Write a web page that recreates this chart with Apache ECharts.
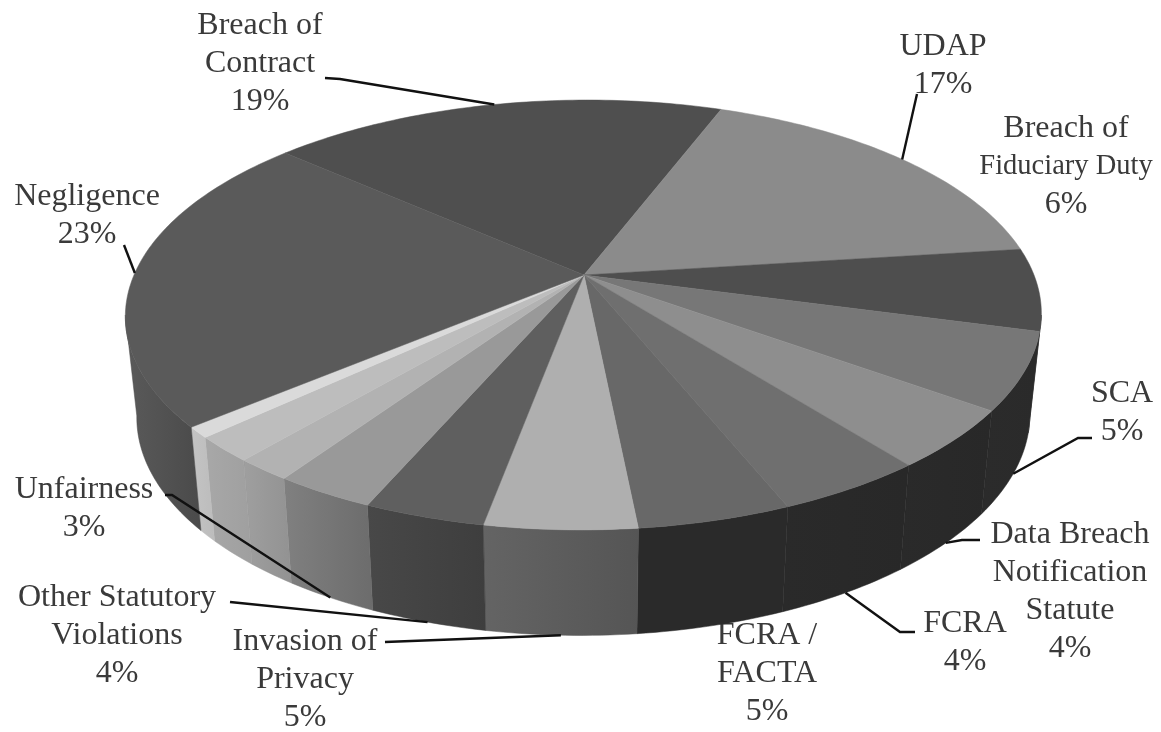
<!DOCTYPE html>
<html>
<head>
<meta charset="utf-8">
<script src="https://cdn.jsdelivr.net/npm/echarts@6/dist/echarts.min.js"></script>
<style>html,body{margin:0;padding:0;background:#fff}#c{width:1161px;height:732px}</style>
</head>
<body>
<div id="c"></div>
<script>
// Clockwise from the Breach of Contract slice's leading edge
const categories = ['Breach of\nContract','UDAP','Breach of\nFiduciary Duty','SCA','Data Breach\nNotification\nStatute','FCRA','FCRA /\nFACTA','Invasion of\nPrivacy','Other Statutory\nViolations','Unfairness','Unlabelled A','Unlabelled B','Unlabelled C','Negligence'];
const shareValues = [19.2,17.3,6.2,5.75,4.4,4.45,4.55,4.5,3.6,3.0,1.7,1.9,0.8,22.64];
const shareLabels = ['19%','17%','6%','5%','4%','4%','5%','5%','4%','3%','','','','23%'];

// Styles
const topColors = ['#4f4f4f','#8b8b8b','#4e4e4e','#777777','#8e8e8e','#6f6f6f','#686868','#afafaf','#5f5f5f','#999999','#b2b2b2','#bdbdbd','#dadada','#5a5a5a'];
const sideFrom  = ['#333333','#333333','#333333','#2b2b2b','#2a2a2a','#2a2a2a','#2a2a2a','#646464','#484848','#808080','#9f9f9f','#a8a8a8','#c4c4c4','#5a5a5a'];
const sideTo    = ['#333333','#333333','#333333','#2a2a2a','#282828','#282828','#2a2a2a','#555555','#3e3e3e','#6c6c6c','#929292','#9f9f9f','#bcbcbc','#4a4a4a'];

// Label layout: [centre x, first-line centre y, leader elbow points], per category index
const labelLayout = {
  0:{x:260,y:24,leader:[[325,78],[340,79]],rim:'top'},
  1:{x:943,y:45,leader:[[917,94]],rim:'top'},
  2:{x:1066,y:127,narrowLine:1},
  3:{x:1122,y:392,leader:[[1092,438],[1078,438]],rim:'bottom'},
  4:{x:1070,y:533,leader:[[980,540],[962,540]],rim:'bottom'},
  5:{x:965,y:622,leader:[[915,632],[900,632]],rim:'bottom'},
  6:{x:767,y:634},
  7:{x:305,y:640,leader:[[385,642]],rim:'bottom'},
  8:{x:117,y:596,leader:[[230,602]],rim:'bottom'},
  9:{x:84,y:488,leader:[[165,495],[172,495]],rim:'bottom'},
  13:{x:87,y:195,leader:[[124,245]],rim:'top'}
};

// Projection of the tilted disc
const view = {cx:584,shear:3.5,cyTop:275,cyBottom:375,a:450,bTop:207.5,bBottom:212,k:0.186,shrink:0.975,startDeg:311.3};
const LH = 38, FONT = '"Liberation Serif",serif', TEXT = '#3a3a3a';
const total = shareValues.reduce((s,v)=>s+v,0);
const cumulative = [];
shareValues.reduce((s,v,i)=>{cumulative[i]=s;return s+v;},0);
const startAngle = i => view.startDeg + cumulative[i]/total*360;
const endAngle = i => startAngle(i) + shareValues[i]/total*360;
function topPoint(deg){
  const t=deg*Math.PI/180, x=Math.sin(t), y=-Math.cos(t), d=1-view.k*y;
  return [view.cx-view.shear*y+view.a*x/d, view.cyTop+view.bTop*y/d];
}
function bottomPoint(deg){
  const t=deg*Math.PI/180, x=Math.sin(t), y=-Math.cos(t), d=1-view.k*y;
  return [view.cx-view.shear*y+view.shrink*view.a*x/d, view.cyBottom+view.bBottom*y/d];
}
function arc(fn,a0,a1){
  const n=Math.max(2,Math.ceil(Math.abs(a1-a0)));const p=[];
  for(let j=0;j<=n;j++)p.push(fn(a0+(a1-a0)*j/n));
  return p;
}
// Visible side spans, between the silhouette tangents of the disc
const sideStart = 90+Math.asin(view.k)*180/Math.PI, sideEnd = 270-Math.asin(view.k)*180/Math.PI;

function renderSlice(params,api){
  const i=api.value(0), a0=startAngle(i), a1=endAngle(i);
  const children=[];
  [[a0,a1],[a0-360,a1-360],[a0+360,a1+360]].forEach(([p,q])=>{
    const s0=Math.max(p,sideStart), s1=Math.min(q,sideEnd);
    if(s1>s0){
      const pts=arc(topPoint,s0,s1).concat(arc(bottomPoint,s0,s1).reverse());
      children.push({type:'polygon',shape:{points:pts},style:{
        fill:new echarts.graphic.LinearGradient(0,0,1,0,[{offset:0,color:sideFrom[i]},{offset:1,color:sideTo[i]}]),
        stroke:sideTo[i],lineWidth:0.5}});
    }
  });
  const pts=[[view.cx,view.cyTop]].concat(arc(topPoint,a0,a1));
  children.push({type:'polygon',shape:{points:pts},style:{fill:topColors[i],stroke:topColors[i],lineWidth:0.5}});
  return {type:'group',children};
}

function renderLabel(params,api){
  const i=api.value(0), L=labelLayout[i];
  const lines=(categories[i]+'\n'+shareLabels[i]).split('\n');
  const text=lines.map((s,n)=>'{'+(n===L.narrowLine?'n':'w')+'|'+s+'}').join('\n');
  return {type:'text',style:{
    text,x:L.x,y:L.y-LH/2+2,align:'center',verticalAlign:'top',
    fontFamily:FONT,fontSize:32,lineHeight:LH,fill:TEXT,
    rich:{
      w:{fontFamily:FONT,fontSize:32,lineHeight:LH,fill:TEXT},
      n:{fontFamily:FONT,fontSize:28.5,lineHeight:LH,fill:TEXT}
    }}};
}

function renderLeader(params,api){
  const i=api.value(0), L=labelLayout[i];
  if(!L.leader) return null;
  const mid=(startAngle(i)+endAngle(i))/2;
  const end=L.rim==='top'?topPoint(mid):bottomPoint(mid);
  return {type:'polyline',shape:{points:L.leader.concat([end])},style:{fill:null,stroke:'#111',lineWidth:2.4}};
}

const labelData=Object.keys(labelLayout).map(k=>({name:categories[+k],value:[+k,shareValues[+k]]}));
const chart=echarts.init(document.getElementById('c'),null,{renderer:'canvas'});
chart.setOption({
  animation:false,
  backgroundColor:'#fff',
  series:[
    {type:'custom',coordinateSystem:'none',silent:true,z:1,renderItem:renderLabel,data:labelData},
    {type:'custom',coordinateSystem:'none',silent:true,z:2,renderItem:renderSlice,
     data:shareValues.map((v,i)=>({name:categories[i],value:[i,v]}))},
    {type:'custom',coordinateSystem:'none',silent:true,z:3,renderItem:renderLeader,data:labelData}
  ]
});
</script>
</body>
</html>
